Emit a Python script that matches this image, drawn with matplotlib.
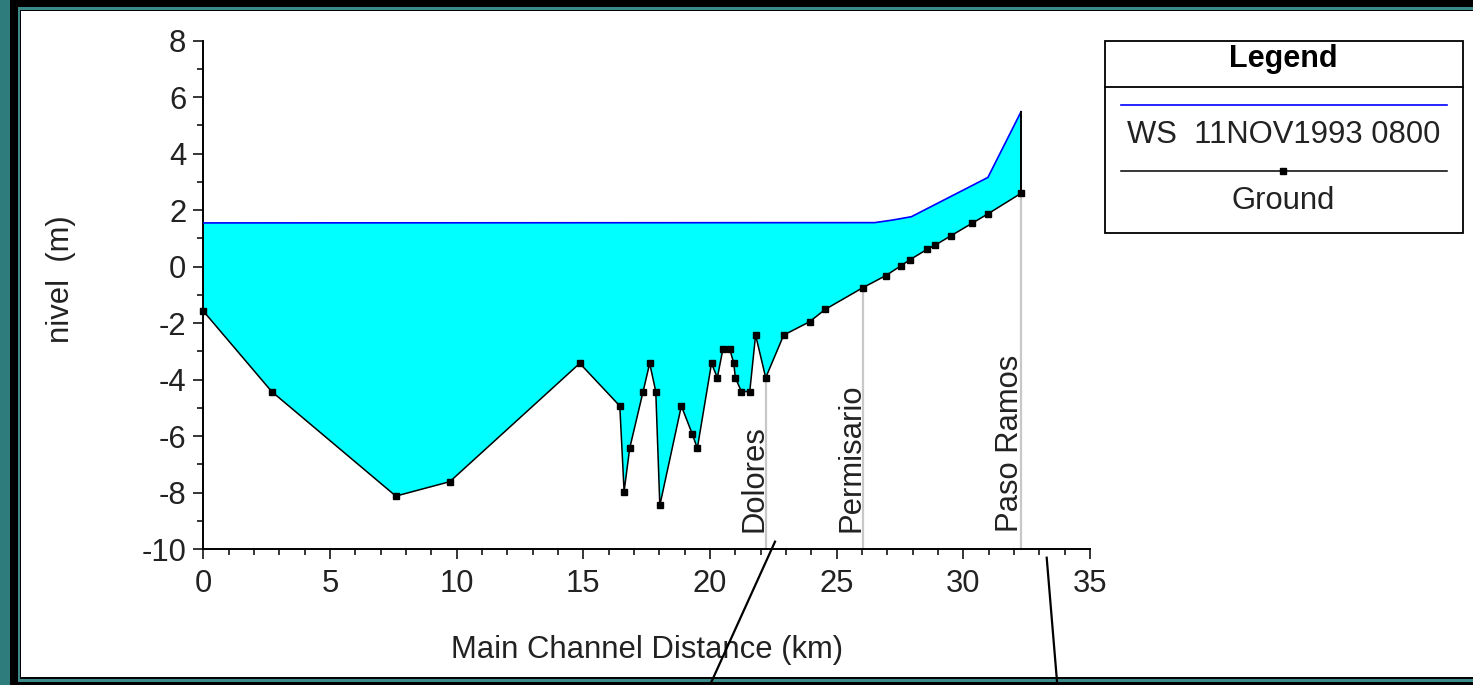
import matplotlib
matplotlib.use("Agg")
import matplotlib.pyplot as plt
from matplotlib.patches import Rectangle
from matplotlib.lines import Line2D

plt.rcParams['font.family'] = ['Liberation Sans', 'DejaVu Sans']
plt.rcParams['axes.unicode_minus'] = False

# perfil del fondo (Ground) - distancia km / cota m
ground_x = [0.0, 2.7, 7.6, 9.73, 14.86, 16.44, 16.61, 16.83, 17.36, 17.62, 17.86,
            18.02, 18.87, 19.3, 19.5, 20.06, 20.29, 20.51, 20.78, 20.94, 21.0,
            21.24, 21.57, 21.8, 22.2, 22.91, 23.93, 24.55, 26.04, 26.93, 27.55,
            27.88, 28.58, 28.9, 29.52, 30.35, 30.97, 32.28]
ground_y = [-1.57, -4.42, -8.12, -7.61, -3.42, -4.93, -7.96, -6.43, -4.42, -3.42, -4.42,
            -8.45, -4.93, -5.92, -6.43, -3.42, -3.93, -2.92, -2.92, -3.42, -3.93,
            -4.42, -4.42, -2.42, -3.93, -2.42, -1.95, -1.51, -0.74, -0.32, 0.04,
            0.24, 0.62, 0.77, 1.1, 1.54, 1.87, 2.6]

# superficie libre WS 11NOV1993 0800
ws_x = [0.0, 26.5, 27.2, 27.95, 30.97, 32.28]
ws_y = [1.55, 1.56, 1.65, 1.77, 3.16, 5.49]

# estaciones
stations = ["Dolores", "Permisario", "Paso Ramos"]
station_x = [22.2, 26.04, 32.28]
station_y = [-3.93, -0.74, 2.6]

W, H = 1473, 685
fig = plt.figure(figsize=(W / 100, H / 100), dpi=100)
fig.patch.set_facecolor('#2e7c7c')


def fx(px):
    return px / W


def fy(py):
    return 1 - py / H


def frect(x0, y0, x1, y1, color, z):
    fig.patches.append(Rectangle((fx(x0), fy(y1)), fx(x1) - fx(x0), fy(y0) - fy(y1),
                                 transform=fig.transFigure, facecolor=color,
                                 edgecolor='none', zorder=z))


# marco tipo diapositiva
frect(10, 0, W + 5, H + 5, 'black', -10)
frect(18, 7, W + 5, 682, '#3a8a8a', -9)
frect(20, 10, W + 5, 679, 'black', -8)
frect(20.5, 10.5, W + 5, 677, 'white', -7)

ax = fig.add_axes([fx(203.3), fy(549.2), fx(1090) - fx(203.3), fy(40.7) - fy(549.2)])
ax.set_facecolor('none')

# relleno de agua
poly_x = ws_x + ground_x[::-1]
poly_y = ws_y + ground_y[::-1]
ax.fill(poly_x, poly_y, color='#00ffff', lw=0, zorder=1)

ax.plot(ws_x, ws_y, color='#0000ff', lw=1.2, zorder=3)
ax.plot([ground_x[-1], ws_x[-1]], [ground_y[-1], ws_y[-1]], color='black', lw=1.4, zorder=3)
ax.plot(ground_x, ground_y, color='black', lw=1.1, marker='s', ms=3.8,
        zorder=4, clip_on=False)

for name, sx, sy in zip(stations, station_x, station_y):
    ax.plot([sx, sx], [sy, -10], color='#c8c8c8', lw=1.6, zorder=2, clip_on=False)
    ax.annotate(name, xy=(sx, -9.4), xytext=(2.5, 0), textcoords='offset points',
                rotation=90, ha='right', va='bottom', fontsize=22.3, color='#222222')

ax.set_xlim(0, 35)
ax.set_ylim(-10, 8)
ax.set_xticks(range(0, 36, 5))
ax.set_xticks(range(0, 36), minor=True)
ax.set_yticks(range(-10, 9, 2))
ax.set_yticks(range(-10, 9), minor=True)
for s in ['top', 'right']:
    ax.spines[s].set_visible(False)
for s in ['left', 'bottom']:
    ax.spines[s].set_linewidth(1.4)
ax.tick_params(which='major', direction='out', length=7.2, width=1.1,
               labelsize=22.3, labelcolor='#222222')
ax.tick_params(which='minor', direction='out', length=4.2, width=1.1)
ax.tick_params(axis='x', which='major', pad=7)
ax.tick_params(axis='y', which='major', pad=5)

ax.set_xlabel("Main Channel Distance (km)", fontsize=22.3, color='#222222')
ax.xaxis.set_label_coords(0.5, -(650 - 549.2) / 508.5)
ax.xaxis.label.set_va('center')
ax.set_ylabel("nivel  (m)", fontsize=22.3, color='#222222')
ax.yaxis.set_label_coords((61 - 203.3) / 886.7, (549.2 - 279) / 508.5)
ax.yaxis.label.set_va('center')

# leyenda dibujada a mano
fig.patches.append(Rectangle((fx(1105), fy(232.7)), fx(1462.7) - fx(1105), fy(41) - fy(232.7),
                             transform=fig.transFigure, facecolor='white',
                             edgecolor='black', lw=1.3, zorder=5))
fig.lines.append(Line2D([fx(1105), fx(1462.7)], [fy(87.3), fy(87.3)],
                        transform=fig.transFigure, color='black', lw=1.3, zorder=6))
fig.text(fx(1283.5), fy(66.7), "Legend", fontsize=22, fontweight='bold',
         ha='center', va='baseline', zorder=6)
fig.lines.append(Line2D([fx(1121), fx(1447)], [fy(105), fy(105)],
                        transform=fig.transFigure, color='#0000ff', lw=1.2, zorder=6))
fig.text(fx(1283.5), fy(143.3), "WS  11NOV1993 0800", fontsize=22.3, color='#222222',
         ha='center', va='baseline', zorder=6)
fig.lines.append(Line2D([fx(1121), fx(1447)], [fy(171), fy(171)],
                        transform=fig.transFigure, color='black', lw=1.1, zorder=6))
fig.lines.append(Line2D([fx(1283)], [fy(171)], transform=fig.transFigure,
                        marker='s', ms=3.8, color='black', zorder=7))
fig.text(fx(1283.5), fy(209), "Ground", fontsize=22.3, color='#222222',
         ha='center', va='baseline', zorder=6)

# líneas de llamada de la diapositiva
fig.lines.append(Line2D([fx(775), fx(710)], [fy(541.7), fy(685)],
                        transform=fig.transFigure, color='black', lw=1.6, zorder=10))
fig.lines.append(Line2D([fx(1046.7), fx(1057.3)], [fy(557.7), fy(685)],
                        transform=fig.transFigure, color='black', lw=1.6, zorder=10))

fig.savefig("out.png", dpi=100, facecolor=fig.get_facecolor())
